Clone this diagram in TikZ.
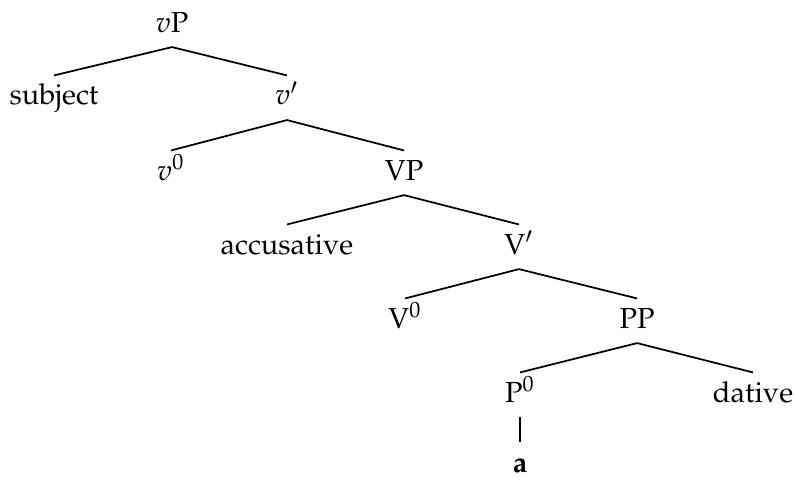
\documentclass[tikz,border=0pt]{standalone}
\usepackage[T1]{fontenc}
\usepackage{mathpazo}
\usepackage{tikz}

\begin{document}
\begin{tikzpicture}[cat/.style={anchor=base,text height=7pt,text depth=2pt,inner xsep=1pt,inner ysep=3pt},
                    branch/.style={semithick}]
        \useasboundingbox (0,0) rectangle (9.627,5.808);
        \node (vP) at (2.086,5.42) [cat] {$v$P};
        \node (subj) at (0.655,4.535) [cat] {subject};
        \node (vbar) at (3.480,4.535) [cat] {$v'$};
        \node (vhead) at (2.073,3.625) [cat] {$v^0$};
        \node (VP) at (4.899,3.625) [cat] {VP};
        \node (acc) at (3.480,2.728) [cat] {accusative};
        \node (Vbar) at (6.293,2.728) [cat] {V$'$};
        \node (Vhead) at (4.911,1.831) [cat] {V$^0$};
        \node (PP) at (7.724,1.831) [cat] {PP};
        \node (Phead) at (6.305,0.934) [cat] {P$^0$};
        \node (dat) at (9.130,0.934) [cat] {dative};
        \node (a) at (6.305,0.085) [cat] {\textbf{a}};
        \draw[branch] (vP.south) -- (subj.north);
        \draw[branch] (vP.south) -- (vbar.north);
        \draw[branch] (vbar.south) -- (vhead.north);
        \draw[branch] (vbar.south) -- (VP.north);
        \draw[branch] (VP.south) -- (acc.north);
        \draw[branch] (VP.south) -- (Vbar.north);
        \draw[branch] (Vbar.south) -- (Vhead.north);
        \draw[branch] (Vbar.south) -- (PP.north);
        \draw[branch] (PP.south) -- (Phead.north);
        \draw[branch] (PP.south) -- (dat.north);
        \draw[branch] (Phead.south) -- (a.north);
\end{tikzpicture}
\end{document}
